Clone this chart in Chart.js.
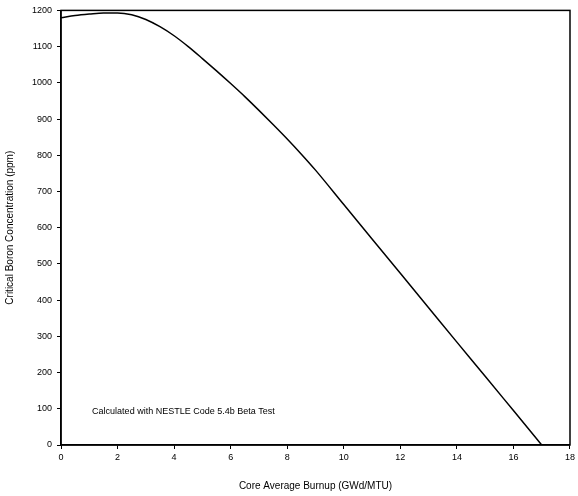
<!DOCTYPE html>
<html>
<head>
<meta charset="utf-8">
<script src="https://cdn.jsdelivr.net/npm/chart.js@4.4.0/dist/chart.umd.min.js"></script>
<style>
  html,body{margin:0;padding:0;background:#fff;}
  #wrap{width:578px;height:496px;position:relative;}
</style>
</head>
<body>
<div id="wrap"><canvas id="myChart"></canvas></div>
<script>
// burnup (GWd/MTU) and critical boron (ppm)
var burnup = [0,0.5,1,1.5,2,2.5,3,3.5,4,4.5,5,5.5,6,6.5,7,7.5,8,8.5,9,10,11,12,13,14,15,16,17];
var boron  = [1180,1186,1190,1193,1193,1188,1175,1155,1130,1100,1067,1033,998,962,924,885,845,803,759,664,569,474,379,284,190,95,0];
var xTicks = [0,2,4,6,8,10,12,14,16,18];
var yTicks = [0,100,200,300,400,500,600,700,800,900,1000,1100,1200];
var legendText = 'Calculated with NESTLE Code 5.4b Beta Test';

var pts = burnup.map(function(b,i){ return {x:b, y:boron[i]}; });

var frame = {
  id:'frame',
  afterDraw:function(chart){
    var a = chart.chartArea, ctx = chart.ctx;
    ctx.save();
    ctx.strokeStyle = '#000';
    ctx.lineWidth = 1.5;
    ctx.strokeRect(a.left, a.top, a.right-a.left, a.bottom-a.top);
    // legend text inside the plot
    ctx.fillStyle = '#000';
    ctx.font = '9px "Liberation Sans", Arial, sans-serif';
    ctx.textBaseline = 'middle';
    ctx.fillText(legendText, chart.scales.x.getPixelForValue(1.1), chart.scales.y.getPixelForValue(92));
    ctx.restore();
  }
};

var font = {family:'"Liberation Sans", Arial, sans-serif', size:9};
var titleFont = {family:'"Liberation Sans", Arial, sans-serif', size:10};
var ctx = document.getElementById('myChart');
var myChart = new Chart(ctx, {
  type:'line',
  data:{
    datasets:[{
      label:legendText,
      data:pts,
      borderColor:'#000',
      borderWidth:1.5,
      pointRadius:0,
      cubicInterpolationMode:'monotone',
      fill:false
    }]
  },
  options:{
    responsive:true,
    maintainAspectRatio:false,
    animation:false,
    layout:{padding:{top:6,right:8,left:0,bottom:0}},
    plugins:{legend:{display:false}, tooltip:{enabled:false}},
    scales:{
      x:{
        type:'linear', min:0, max:18,
        afterBuildTicks:function(s){ s.ticks = xTicks.map(function(v){return {value:v};}); },
        afterFit:function(s){ s.height = 51; },
        grid:{drawOnChartArea:false, color:'#000', tickLength:4},
        border:{color:'#000', width:1.5},
        ticks:{color:'#000', font:font, padding:3, maxRotation:0, callback:function(v){return String(v);}},
        title:{display:true, text:'Core Average Burnup (GWd/MTU)', color:'#000', font:titleFont, padding:{top:3}}
      },
      y:{
        type:'linear', min:0, max:1200,
        afterBuildTicks:function(s){ s.ticks = yTicks.map(function(v){return {value:v};}); },
        afterFit:function(s){ s.width = 61; },
        grid:{drawOnChartArea:false, color:'#000', tickLength:4},
        border:{color:'#000', width:1.5},
        ticks:{color:'#000', font:font, padding:5, callback:function(v){return String(v);}},
        title:{display:true, text:'Critical Boron Concentration (ppm)', color:'#000', font:titleFont, padding:{bottom:0}}
      }
    }
  },
  plugins:[frame]
});
</script>
</body>
</html>
